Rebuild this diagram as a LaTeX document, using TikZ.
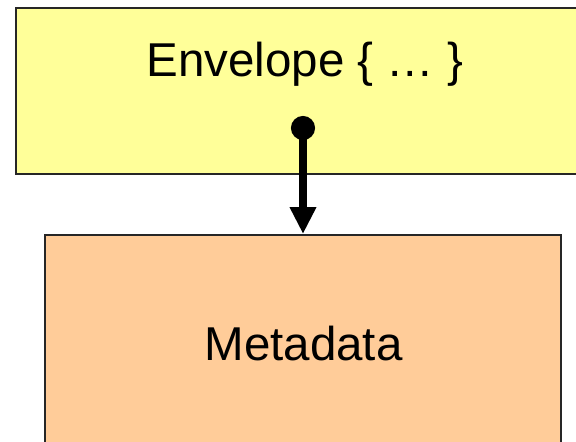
\documentclass[tikz,border=0pt]{standalone}
\usepackage{fontspec}
\setmainfont{Liberation Sans}
\usetikzlibrary{positioning,arrows.meta}
\definecolor{envyellow}{HTML}{FFFF99}
\definecolor{metaorange}{HTML}{FFCC99}
\tikzstyle{box} = [draw=black!85, line width=2pt, rectangle, inner sep=0pt]
\tikzstyle{label} = [inner sep=0pt, anchor=base, font=\fontsize{47.5}{56}\selectfont]

\begin{document}
\begin{tikzpicture}[x=1pt, y=-1pt]
        \useasboundingbox (0,0) rectangle (576,442);
        \clip (0,0) rectangle (576,442);
        \node [box, fill=envyellow, minimum width=576pt, minimum height=166pt] (env) at (304,91) {};
        \node [box, fill=metaorange, minimum width=516pt, minimum height=240pt] (meta) at (303,355) {};
        \node [label] (envtext) at (305,76) {Envelope \{ … \}};
        \node [label] (metatext) at (303.5,360) {Metadata};
        \coordinate (ref) at (303,116);

        \draw [line width=8pt, {Circle[length=24pt]}-{Triangle[width=25pt,length=27pt]}] (ref) -- (meta.north -| ref);
\end{tikzpicture}
\end{document}
